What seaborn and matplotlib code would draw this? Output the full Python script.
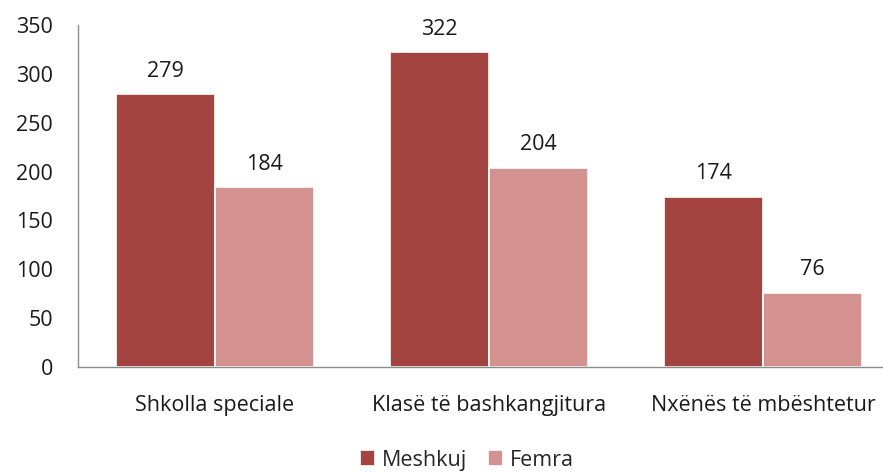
import matplotlib
matplotlib.use("Agg")
import matplotlib.pyplot as plt
import seaborn as sns
import pandas as pd

# --- data ---
categories = ["Shkolla speciale", "Klasë të bashkangjitura", "Nxënës të mbështetur"]
meshkuj = [279, 322, 174]
femra = [184, 204, 76]
series_names = ["Meshkuj", "Femra"]
colors = ["#A44441", "#D39190"]

df = pd.DataFrame({
    "cat": categories * 2,
    "value": meshkuj + femra,
    "sex": [series_names[0]] * 3 + [series_names[1]] * 3,
})

sns.set_style("white")
plt.rcParams["font.family"] = ["Open Sans", "DejaVu Sans"]
FS = 15.5

fig = plt.figure(figsize=(8.83, 4.72), dpi=100)
ax = fig.add_axes([78 / 883, 1 - 367 / 472, 1 - 78 / 883, (367 - 25) / 472])

sns.barplot(data=df, x="cat", y="value", hue="sex", palette=colors,
            saturation=1, width=0.72, gap=0, edgecolor="white", linewidth=1.2,
            ax=ax, legend=True)

for cont in ax.containers:
    ax.bar_label(cont, padding=9, fontsize=FS, color="#1a1a1a")

ax.set_ylim(0, 350)
ax.set_yticks(range(0, 351, 50))
ax.set_xlim(-0.5, (883 - 78) / 274 - 0.5)
ax.set_xlabel("")
ax.set_ylabel("")
ax.tick_params(axis="both", labelsize=FS, colors="#1a1a1a", length=0)
ax.tick_params(axis="y", pad=18)
ax.tick_params(axis="x", pad=20)

for s in ["top", "right"]:
    ax.spines[s].set_visible(False)
for s in ["left", "bottom"]:
    ax.spines[s].set_color("#8c8c8c")
    ax.spines[s].set_linewidth(1)

ax.legend(loc="center", bbox_to_anchor=(0.483, -0.272), ncol=2, frameon=False,
          fontsize=FS, handlelength=0.7, handleheight=0.7,
          handletextpad=0.3, columnspacing=1.0)

fig.savefig("out.png", dpi=100)
